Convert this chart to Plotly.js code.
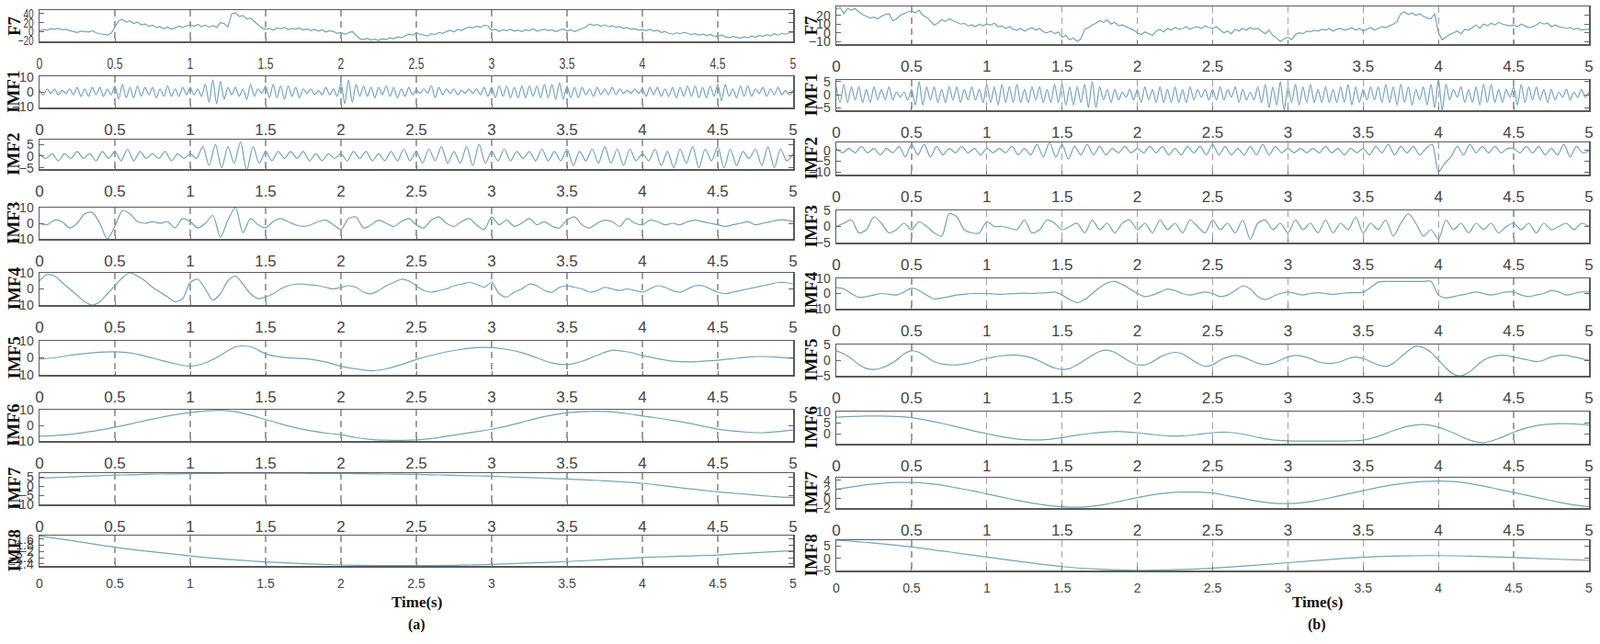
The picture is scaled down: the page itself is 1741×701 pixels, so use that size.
<!DOCTYPE html>
<html><head><meta charset="utf-8">
<script src="https://cdn.plot.ly/plotly-3.0.1.min.js"></script>
<style>html,body{margin:0;padding:0;background:#fff}#chart{width:1741px;height:701px}</style>
</head><body><div id="chart"></div>
<script>
// ---------------- DATA ----------------
const rowNames = ['F7','IMF1','IMF2','IMF3','IMF4','IMF5','IMF6','IMF7','IMF8'];
const timeTicks = [0,0.5,1,1.5,2,2.5,3,3.5,4,4.5,5];
const timeTickText = ['0','0.5','1','1.5','2','2.5','3','3.5','4','4.5','5'];
const panelLabels = ['(a)','(b)'];
const xTitle = 'Time(s)';

// ---- panel (a) ----
const f7A = [
 2,4,3,6,5,7,4,5,2,0,-2,1,0,-1,2,-3,-5,-7,-8,-4,
 10,24,27,21,24,18,21,15,17,12,14,9,11,6,10,5,8,12,9,13,
 15,12,16,11,14,10,13,9,20,18,10,40,42,34,36,28,30,22,15,8,
 5,7,3,8,6,9,4,7,5,8,3,6,2,5,1,4,-1,2,0,-4,
 -2,-6,-3,0,-8,-16,-18,-15,-19,-17,-20,-16,-18,-14,-16,-12,-14,-10,-6,-8,
 -3,-6,-8,-10,-5,-7,-2,-4,0,3,-1,5,2,7,10,8,12,9,14,13,
 3,5,0,4,2,5,1,3,0,4,2,6,1,3,5,2,4,0,3,6,
 1,4,0,3,6,10,17,14,16,12,15,11,13,9,11,7,9,5,6,3,
 4,2,5,1,3,-2,0,-4,-6,-3,-5,-2,-4,-7,-5,-8,-6,-9,-7,-10,
 -11,-8,-12,-14,-11,-13,-15,-12,-14,-10,-13,-9,-11,-7,-10,-5,-8,-4,-6,-3,
 -2];
const imf1A = [
 1,-2,2,-1,2,-2,1,-1,2,-2,3,-3,2,-3,3,-2,3,-3,2,-2,
 4,-5,5,-4,3,-4,4,-3,3,-2,3,-4,2,-3,4,-3,2,-3,3,-2,
 3,-2,2,-3,5,-7,8,-8,7,-5,3,-2,3,-3,2,-5,5,-3,2,-1,
 4,-4,5,-4,4,-5,4,-3,3,-4,2,-1,2,-2,1,-2,3,-2,2,-3,
 6,-8,8,-7,5,-3,4,-3,3,-4,3,-2,4,-3,3,-4,2,-3,3,-2,
 1,-1,2,-1,4,-4,3,-2,2,-1,2,-2,1,-1,2,-1,2,-2,3,-3,
 3,-4,4,-3,4,-4,3,-4,4,-4,4,-3,4,-4,5,-4,5,-5,6,-5,
 4,-4,3,-4,3,-2,2,-3,3,-2,2,-2,3,-2,2,-1,1,-1,2,-1,
 2,-3,3,-2,3,-3,2,-3,3,-4,3,-3,4,-3,4,-4,3,-4,4,-3,
 5,-6,5,-3,2,-4,4,-3,4,-3,2,-1,3,-3,2,-2,3,-2,1,-2,
 1];
const imf2A = [
 1,-1,1,-2,1,-1,2,-1,1,-2,2,-1,
 2,-2,3,-2,2,-1,1,-1,2,-2,1,-1,
 1,-1,4,-4,5,-5,4,-3,6,-6,4,-3,
 2,-2,2,-1,2,-1,2,-2,1,-2,1,-1,
 1,-2,2,-1,2,-2,1,-2,2,-2,3,-2,
 2,-3,3,-2,4,-3,2,-3,4,-4,5,-3,
 2,-2,3,-2,2,-1,2,-2,3,-2,2,-2,
 3,-4,2,-2,3,-3,4,-3,3,-4,3,-2,
 1,-2,3,-4,2,-5,3,-3,4,-5,3,-2,
 4,-5,3,-4,2,-1,3,-4,4,-5,3,-2,
 1];
const imf3A = [
 0,-1,2,1,-3,0,6,7,0,-10,
 -2,8,6,1,0,1,0,1,-3,3,
 1,-3,0,5,-9,2,10,-6,3,-1,
 -3,1,3,1,-1,-2,-1,1,2,-1,
 -4,3,4,-3,-1,2,0,-2,1,3,
 -1,-3,2,4,0,-2,1,3,-1,-4,
 4,-1,2,-2,0,3,-1,1,-2,-3,
 2,4,-1,-3,0,2,1,-2,3,0,
 -1,2,1,-1,0,-1,1,2,1,0,
 -1,-2,-1,0,1,-1,0,1,2,2,
 1];
const imf4A = [
 5,9,8,4,0,-4,-8,-10,-8,-3,
 2,7,10,8,5,1,-2,-5,-8,-6,
 4,6,0,-7,-3,5,8,3,-3,-6,
 -5,-3,0,2,3,3,2.5,2,1,0,
 1,2,1,-2,-3,-1,2,4,6,5,
 2,-1,-2,-1,0,2,3,4,3,1,
 4,-3,-5,-2,0,3,2,-1,-2,1,
 2,1,0,-2,-1,1,0,-1,0,-1,
 -2,0,2,1,-1,-2,0,2,2,0,
 -2,-3,-2,-1,0,1,2,3,4,4,
 3];
const imf5A = [
 -0.7,0,1.5,2.5,3.3,3.6,2.9,1,-1.3,-3.5,
 -4.9,-3,1.5,6.5,6.5,2.4,0.5,-0.2,-0.9,-2.5,
 -4.9,-6.5,-7.6,-6.5,-4,-1,1.5,3.5,5,6,
 6,5,3,0,-3,-4,-2,1.5,4.5,3.5,
 1.4,-0.5,-2,-2.4,-2,-1.4,-0.5,0.5,0.8,0.3,
 -0.3];
const imf6A = [
 -7,-6.5,-5.8,-4.5,-3,-1.2,0.8,3,5,6.8,
 8.2,9.2,9.6,8.8,6.5,3.7,1,-1.5,-3.5,-5,
 -6,-7.8,-9,-9.5,-9.6,-9.3,-8.5,-7,-5.5,-4,
 -2.5,-0.5,2,4.5,6.5,8,8.8,9,8.6,7.5,
 6,4.7,3.2,1.5,-0.5,-2.4,-3.6,-4.4,-4.7,-4,
 -3];
const imf7A = [
 4.3,4.6,4.9,5.3,5.6,5.9,6.1,6.3,6.5,6.6,
 6.7,6.8,6.85,6.9,6.9,6.9,6.9,6.9,6.85,6.8,
 6.8,6.7,6.6,6.5,6.4,6.3,6.1,5.9,5.7,5.5,
 5.3,5.0,4.7,4.4,4.1,3.8,3.4,3.0,2.6,2.1,
 1.5,0.6,-0.4,-1.4,-2.3,-3.2,-3.9,-4.6,-5.3,-5.9,
 -6.3];
const imf8A = [
 -1.5,-1.68,-1.86,-2.01,-2.14,-2.25,-2.33,-2.39,-2.43,-2.45,
 -2.45,-2.44,-2.41,-2.37,-2.32,-2.26,-2.19,-2.15,-2.11,-2.04,
 -1.97];

// ---- panel (b) ----
const f7B = [
 27,29,22,28,26,28,24,21,19,17,18,16,19,21,22,14,16,20,22,24,
 25,23,26,20,18,14,9,11,15,13,16,14,12,10,11,8,9,7,10,8,
 10,9,11,7,8,5,7,4,3,5,2,4,6,3,5,1,0,2,-1,1,
 -5,-3,-8,-6,-10,-7,4,6,9,11,14,12,15,10,12,8,9,7,5,3,
 0,-2,1,-1,-3,2,4,1,5,3,6,4,5,7,4,6,7,5,8,6,
 5,7,3,0,2,-1,4,2,5,3,6,4,5,2,-1,3,-3,-6,-10,-7,
 -5,-8,-2,0,-1,2,1,3,2,4,3,5,2,4,5,3,4,6,3,5,
 2,4,6,3,5,7,6,8,10,13,22,24,21,23,20,22,19,17,16,22,
 0,-8,-5,-2,0,2,-1,4,3,6,9,5,10,8,11,9,12,10,9,8,
 9,7,10,8,6,7,9,12,10,11,7,9,7,6,5,6,4,5,3,4,
 4];
const imf1B = [
 3,-3,4,-3,3,-2,3,-3,2,-3,3,-2,2,-2,3,-2,1,-1,1,-2,
 2,-4,5,-4,3,-2,3,-3,2,-3,3,-2,3,-3,2,-2,3,-2,2,-3,
 4,-3,3,-4,4,-3,3,-3,4,-3,2,-3,3,-2,3,-3,2,-3,4,-3,
 4,-4,3,-4,3,-3,4,-5,5,-5,3,-2,2,-3,2,-2,1,-1,2,-2,
 2,-3,3,-2,2,-3,3,-3,2,-3,3,-3,2,-3,3,-2,2,-1,2,-2,
 2,-2,3,-2,2,-1,3,-3,2,-2,1,-2,3,-3,4,-5,3,-4,5,-6,
 3,-3,4,-4,3,-3,4,-3,2,-3,3,-3,2,-3,3,-3,4,-4,3,-3,
 2,-2,3,-2,3,-3,4,-3,3,-4,4,-3,3,-4,2,-2,3,-4,4,-5,
 6,-6,4,-2,2,-1,3,-3,2,-3,3,-4,4,-3,4,-3,2,-3,2,-1,
 3,-4,4,-3,3,-2,3,-2,2,-3,2,-2,1,-1,2,-2,1,-1,2,-1,
 1];
const imf2B = [
 1,-1,1,-1,2,-1,1,-2,1,-1,2,-3,
 3,-2,3,-3,2,-2,1,-1,2,-1,1,-2,
 1,-1,1,-1,2,-2,1,-2,3,-3,4,-3,
 3,-4,2,-2,3,-2,2,-2,1,-1,2,-1,
 1,-1,2,-1,2,-2,1,-2,2,-1,2,-2,
 3,-2,2,-2,1,-2,2,-2,3,-2,2,-1,
 1,-1,1,-1,1,-1,2,-1,1,-2,1,-1,
 1,-2,2,-1,3,-2,2,-1,2,-2,1,3,
 -10,-6,-3,2,-2,3,-1,2,-1,2,-1,1,
 1,-1,2,-1,2,-2,1,-2,3,-3,2,-1,
 0];
const imf3B = [
 0,1,2,-2,-1,3,1,-2,-1,1,
 -1,1.5,0,-2,-3,4,3,-1,-2,-2,
 1.5,0,0,-0.5,-1,2,-2,-1,2,1,
 -1,0,1,-2,2,-1,1,-2,1,2,
 -1,1,-2,2,-1,1,-2,2,0,-2,
 2,-1,1,-2,2,-4,1,2,-1,1,
 -2,2,-1,1,-2,2,-2,1,-1,3,
 -2,1,-1,2,-3,1,4,1,-3,-1,
 -4,2,-1,1,-2,1,-1,1,-2,0,
 1,-1,1,-2,1,-1,0,1,-1,1,
 0];
const imf4B = [
 4,3,0,-2.5,-2,-1,0,-0.5,-1,1,
 3.5,2,-1,-3.5,-3,-2,-1,-0.5,0,0,
 0,-0.3,-0.5,-0.2,0,0.2,0,0.3,0.5,1,
 -1,-4,-6,-4,0,4,7,8,6,3,
 0,-2,-1,1,3,2,0,-1,0,1,
 0,-2,-1,2,5,3,-2,-4,-2,0,
 1,0,-1,0,0.5,0,-0.5,0,0.5,0.5,
 1,4,7.5,8,8,8,8,8,8,8,
 -1,-3,-2,-1,0,1,0,-1,0,1,
 1,-1,-2,-1,0,2,1,-1,0,1,
 1];
const imf5B = [
 3,2,0.5,-1.5,-2.7,-3,-2.5,-1.5,0,2,
 3,2.5,1,-0.5,-1.2,-1.5,-1.5,-1.2,-0.8,0,
 0.5,1,1.4,1.6,1.6,1.3,0.7,-0.3,-1.5,-2.5,
 -3,-2.7,-1.5,0,1.5,2.8,3.2,2.5,1,-0.5,
 -1.5,-1.5,-0.5,1,2,2.5,2,0.5,-1,-2,
 -1.5,0,1,1.5,1,0,-1,-1.5,-1,0,
 1,1.5,1.2,0.5,-0.5,-1,-1,-0.5,0.5,1,
 0.5,-0.5,-1.5,-2,-1,1,3,4.5,4,2.5,
 0,-2.5,-4.5,-5,-4,-2,0,1,1.5,1.5,
 1,0.5,0,-0.5,0,1,1.5,1.5,1,0.5,
 0];
const imf6B = [
 7.5,7.8,8,8,7.8,7.3,6.2,4.8,3.2,1.6,
 0.2,-1.2,-2.2,-2.6,-2.4,-1.6,-0.5,0.4,1,1.1,
 0.6,-0.2,-0.8,-0.8,-0.2,0.6,0.8,0,-1.5,-2.6,
 -3,-3.1,-3.1,-3.1,-3,-2.7,-1,1.5,3.5,4.2,
 3,0.5,-2.5,-3.8,-2,0.8,3,4.2,4.6,4.5,
 4];
const imf7B = [
 2,2.5,3,3.3,3.5,3.5,3.3,2.9,2.3,1.7,
 1,0.3,-0.4,-1,-1.5,-1.8,-1.9,-1.7,-1.2,-0.5,
 0.2,0.8,1.2,1.4,1.4,1.2,0.6,0,-0.6,-1,
 -1.1,-0.9,-0.4,0.3,1,1.7,2.4,3,3.4,3.7,
 3.8,3.7,3.3,2.7,2,1.3,0.6,-0.1,-0.8,-1.4,
 -1.8];
const imf8B = [
 7.4,6.2,4.6,2.6,0.5,-1.6,-3.4,-4.5,-4.9,-4.7,
 -4,-3,-1.8,-0.6,0.4,1,1.1,0.8,0.3,-0.3,
 -0.8];

const seriesA = [f7A, imf1A, imf2A, imf3A, imf4A, imf5A, imf6A, imf7A, imf8A];
const seriesB = [f7B, imf1B, imf2B, imf3B, imf4B, imf5B, imf6B, imf7B, imf8B];
const yTicksA = [[40,20,0,-20],[10,0,-10],[5,0,-5],[10,0,-10],[10,0,-10],[10,0,-10],[10,0,-10],[5,0,-5,-10],[-1.6,-1.8,-2,-2.2,-2.4]];
const yTicksB = [[30,20,10,0,-10],[5,0,-5],[0,-5,-10],[5,0,-5],[10,0,-10],[5,0,-5],[10,5,0],[4,2,0,-2],[5,0,-5]];

// ---------------- LAYOUT CONFIG ----------------
const W = 1741, H = 701;
const yRangesA = [[-22,48],[-10.5,10.5],[-5.5,7],[-10,10],[-10,10],[-10,10],[-10,10],[-10,7],[-2.46,-1.49]];
const yRangesB = [[-13,30.3],[-6,5.7],[-11.3,3.9],[-5,5],[-10,10],[-5,5],[-4.3,10],[-2.07,4.53],[-5,7.4]];
const boxA = [[11,45],[83,117],[152,184],[226,260],[297,332],[371,408],[446,480],[515,549],[583,616]];
const boxB = [[7,48],[87,120],[155,190],[229,264],[303,336],[375,409],[448,483],[520,553],[588,621]];
const colX = [[43,863],[910,1729]];
const labelX = [15,882];
const lineColor = '#72a3bb';
const tickFont = 'Liberation Sans, Arial, sans-serif';
const serif = 'Liberation Serif, Times New Roman, serif';
const squeeze = 0.72;

function times(n){ const t=[]; for(let i=0;i<n;i++) t.push(i*5/(n-1)); return t; }

const traces = [], layout = {
  width: W, height: H, margin:{l:0,r:0,t:0,b:0},
  paper_bgcolor:'#fff', plot_bgcolor:'#fff', showlegend:false, annotations:[]
};

[seriesA, seriesB].forEach((ser, c) => {
  const ranges = c===0 ? yRangesA : yRangesB;
  const boxes = c===0 ? boxA : boxB;
  const yt = c===0 ? yTicksA : yTicksB;
  ser.forEach((vals, r) => {
    const k = c*9 + r + 1;
    const xa = 'x' + (k===1?'':k), ya = 'y' + (k===1?'':k);
    traces.push({
      x: times(vals.length), y: vals, xaxis: xa, yaxis: ya, type:'scatter', mode:'lines',
      line:{color:lineColor, width:1.2, shape: r===0 ? 'linear' : 'spline', smoothing: 0.8},
      hoverinfo:'skip'
    });
    const [top, bot] = boxes[r];
    const last = r===8;
    layout['xaxis'+(k===1?'':k)] = {
      domain:[colX[c][0]/W, colX[c][1]/W], anchor: ya, range:[0,5],
      tickvals: timeTicks, ticktext: timeTickText,
      tickfont:{family:tickFont, size: last?14:17, color:'#444'},
      showgrid:true, gridcolor:'#a0a0a0', gridwidth:1.3, griddash:'7px,5px',
      zeroline:false, showline:true, linecolor:'#5a5a5a', linewidth:1.5, mirror:true,
      ticks:'inside', ticklen:4, tickcolor:'#777', ticklabelstandoff: last?6:8
    };
    layout['yaxis'+(k===1?'':k)] = {
      domain:[1-bot/H, 1-top/H], anchor: xa, range: ranges[r],
      tickvals: yt[r], tickfont:{family:tickFont, size:14, color:'#444'},
      showgrid:false, zeroline:false, showline:true, linecolor:'#5a5a5a', linewidth:1.5, mirror:'ticks',
      ticks:'inside', ticklen:5, tickcolor:'#666', ticklabelstandoff:2
    };
    layout.annotations.push({
      xref:'paper', yref:'paper', x: labelX[c]/W, y: 1-((top+bot)/2)/H,
      text: rowNames[r], showarrow:false, textangle:-90, xanchor:'center', yanchor:'middle',
      font:{family:serif, size:19, color:'#111', weight:700}
    });
  });
});

const titleX = [453, 1433];
titleX.forEach((px, c) => {
  layout.annotations.push({xref:'paper', yref:'paper', x:px/W, y:1-655/H, text:xTitle, showarrow:false,
    xanchor:'center', yanchor:'middle', font:{family:serif, size:17, color:'#111', weight:700}});
  layout.annotations.push({xref:'paper', yref:'paper', x:px/W, y:1-680/H, text:panelLabels[c], showarrow:false,
    xanchor:'center', yanchor:'middle', font:{family:serif, size:16, color:'#111', weight:700}});
});

// condensed tick lettering, like the reference's narrow sans (idempotent)
function squeezeTicks(){
  document.querySelectorAll('.xtick text, .ytick text').forEach(t => {
    t.removeAttribute('textLength');
    t.removeAttribute('lengthAdjust');
    const len = t.getComputedTextLength();
    if (len > 0) {
      t.setAttribute('textLength', (len * squeeze).toFixed(2));
      t.setAttribute('lengthAdjust', 'spacingAndGlyphs');
    }
  });
}

Plotly.newPlot('chart', traces, layout, {staticPlot:true, displayModeBar:false}).then(() => {
  squeezeTicks();
  setTimeout(squeezeTicks, 60);
  setTimeout(squeezeTicks, 300);
});
</script>
</body></html>
